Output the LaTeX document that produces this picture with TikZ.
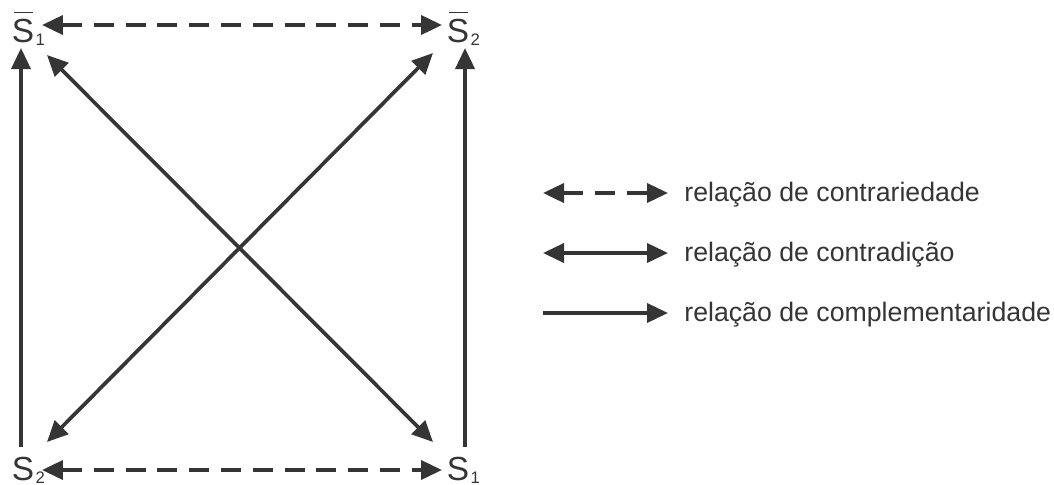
\documentclass[tikz,border=0pt]{standalone}
\usepackage{fontspec}
\setmainfont{Liberation Sans}
\usetikzlibrary{arrows.meta}
\definecolor{ink}{HTML}{353535}
% letter S with a bar above it
\newcommand\barS{\leavevmode\rlap{\hspace{1.1pt}\raisebox{16.3pt}{\rule{11.2pt}{0.9pt}}}S}
\newcommand\subidx[1]{\kern0.8pt\raisebox{-1.8pt}{\fontsize{9.5pt}{10pt}\selectfont #1}}
\begin{document}
\begin{tikzpicture}[x=0.02cm,y=-0.02cm,
  rel/.style={draw=ink,line width=2.1pt,
    arrows={-Triangle[length=0.42cm,width=0.38cm]}},
  bothrel/.style={rel,arrows={Triangle[length=0.42cm,width=0.38cm]-Triangle[length=0.42cm,width=0.38cm]}},
  dashrel/.style={bothrel,dash pattern=on 11.3pt off 6.8pt},
  term/.style={inner sep=0pt,anchor=base west,text=ink,
    font=\fontsize{19pt}{21pt}\selectfont},
  legtext/.style={inner sep=0pt,anchor=base west,text=ink,
    font=\fontsize{15.2pt}{17pt}\selectfont}]
\useasboundingbox (0,0) rectangle (1054,484);

% the four terms of the square
\node[term] (ns1) at (11.5,42) {\barS\subidx{1}};
\node[term] (ns2) at (446.5,42) {\barS\subidx{2}};
\node[term] (s2) at (11.5,480) {S\subidx{2}};
\node[term] (s1) at (446.5,480) {S\subidx{1}};

% arrow ends around the terms
\coordinate (ns1r) at (42,25);
\coordinate (ns2l) at (442,25);
\coordinate (s2r) at (42,470);
\coordinate (s1l) at (442,470);
\coordinate (ns1b) at (21,48);
\coordinate (s2t) at (21,447);
\coordinate (ns2b) at (465,48);
\coordinate (s1t) at (465,447);
\coordinate (ns1d) at (47,55);
\coordinate (s1d) at (433,442);
\coordinate (s2d) at (47,442);
\coordinate (ns2d) at (433,53);

% contrariety
\draw[dashrel] (ns1r) -- (ns2l);
\draw[dashrel] (s2r) -- (s1l);
% complementarity
\draw[rel] (s2t) -- (ns1b);
\draw[rel] (s1t) -- (ns2b);
% contradiction
\draw[bothrel] (ns1d) -- (s1d);
\draw[bothrel] (s2d) -- (ns2d);

% legend
\coordinate (l1a) at (543,193); \coordinate (l1b) at (668,193);
\coordinate (l2a) at (543,253); \coordinate (l2b) at (668,253);
\coordinate (l3a) at (543,313); \coordinate (l3b) at (668,313);
\draw[dashrel] (l1a) -- (l1b);
\draw[bothrel] (l2a) -- (l2b);
\draw[rel] (l3a) -- (l3b);
\node[legtext] (t1) at (684,201) {relação de contrariedade};
\node[legtext] (t2) at (684,261) {relação de contradição};
\node[legtext] (t3) at (684,321) {relação de complementaridade};
\end{tikzpicture}
\end{document}
